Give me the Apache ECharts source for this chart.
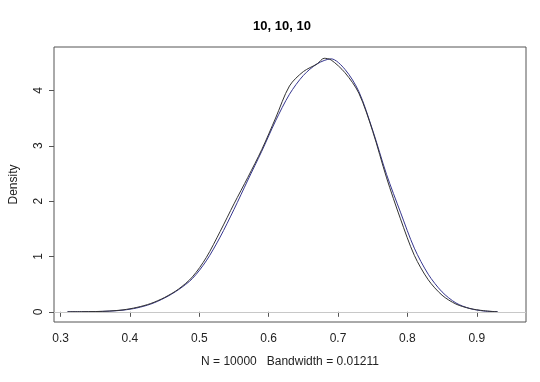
<!DOCTYPE html>
<html>
<head>
<meta charset="utf-8">
<script src="https://cdn.jsdelivr.net/npm/echarts@6/dist/echarts.min.js"></script>
<style>html,body{margin:0;padding:0;background:#fff}#c{width:540px;height:382px}</style>
</head>
<body>
<div id="c"></div>
<script>
// Data
var kdeX = [0.31,0.33,0.35,0.37,0.39,0.41,0.43,0.45,0.47,0.49,0.51,0.53,0.55,0.57,0.59,0.61,0.63,0.65,0.67,0.68,0.69,0.71,0.73,0.75,0.77,0.79,0.81,0.83,0.85,0.87,0.89,0.91,0.93];
var kdeY = [0.000,0.002,0.005,0.014,0.035,0.08,0.15,0.26,0.41,0.63,0.98,1.45,1.95,2.43,2.93,3.50,4.08,4.34,4.48,4.58,4.55,4.32,3.95,3.26,2.42,1.68,1.02,0.58,0.30,0.14,0.06,0.02,0.00];
var refX = [0.31,0.33,0.35,0.37,0.39,0.41,0.43,0.45,0.47,0.49,0.51,0.53,0.55,0.57,0.59,0.61,0.63,0.65,0.67,0.69,0.71,0.73,0.75,0.77,0.79,0.81,0.83,0.85,0.87,0.89,0.91,0.93];
var refY = [0.000,0.001,0.004,0.012,0.03,0.07,0.14,0.25,0.40,0.60,0.92,1.35,1.85,2.38,2.90,3.45,3.93,4.27,4.48,4.57,4.38,3.98,3.28,2.48,1.80,1.15,0.68,0.36,0.16,0.06,0.015,0.002];
var xTicks = [0.3,0.4,0.5,0.6,0.7,0.8,0.9];
var yTicks = [0,1,2,3,4];
var titleText = "10, 10, 10";
var xLabel = "N = 10000   Bandwidth = 0.01211";
var yLabel = "Density";

function pairs(xs, ys){ return xs.map(function(x,i){ return [x, ys[i]]; }); }

var chart = echarts.init(document.getElementById('c'), null, {renderer:'canvas'});
var font = 'Liberation Sans, Arial, sans-serif';
chart.setOption({
  animation:false,
  backgroundColor:'#fff',
  title:{text:titleText, left:277, top:15, textAlign:'center',
    textStyle:{fontFamily:font, fontSize:13, fontWeight:'bold', color:'#000'}},
  grid:{left:47, right:14, top:47, bottom:60, show:true, borderColor:'#555', borderWidth:1, backgroundColor:'transparent'},
  xAxis:{type:'value', min:0.2905, max:0.971,
    name:xLabel, nameLocation:'middle', nameGap:34,
    nameTextStyle:{fontFamily:font, fontSize:12, color:'#222'},
    axisLine:{show:false}, splitLine:{show:false},
    axisTick:{show:true, length:5, lineStyle:{color:'#555'}, customValues:xTicks},
    axisLabel:{fontFamily:font, fontSize:12, color:'#222', margin:11, customValues:xTicks,
      formatter:function(v){ return String(Math.round(v*10)/10); }}
  },
  yAxis:{type:'value', min:-0.184, max:4.784,
    name:yLabel, nameLocation:'middle', nameGap:34, nameRotate:90,
    nameTextStyle:{fontFamily:font, fontSize:12, color:'#222'},
    axisLine:{show:false}, splitLine:{show:false},
    axisTick:{show:true, length:5, lineStyle:{color:'#555'}, customValues:yTicks},
    axisLabel:{fontFamily:font, fontSize:12, color:'#222', margin:9, rotate:90, customValues:yTicks,
      formatter:function(v){ return String(Math.round(v)); }}
  },
  series:[
    {type:'line', data:pairs(kdeX,kdeY), smooth:0.3, showSymbol:false,
     lineStyle:{color:'#333', width:1}, z:3,
     markLine:{silent:true, symbol:'none', label:{show:false},
       lineStyle:{color:'#c8c8c8', width:1, type:'solid'}, data:[{yAxis:0}]}},
    {type:'line', data:pairs(refX,refY), smooth:0.3, showSymbol:false,
     lineStyle:{color:'#36368f', width:1}, z:2}
  ]
});
</script>
</body>
</html>
